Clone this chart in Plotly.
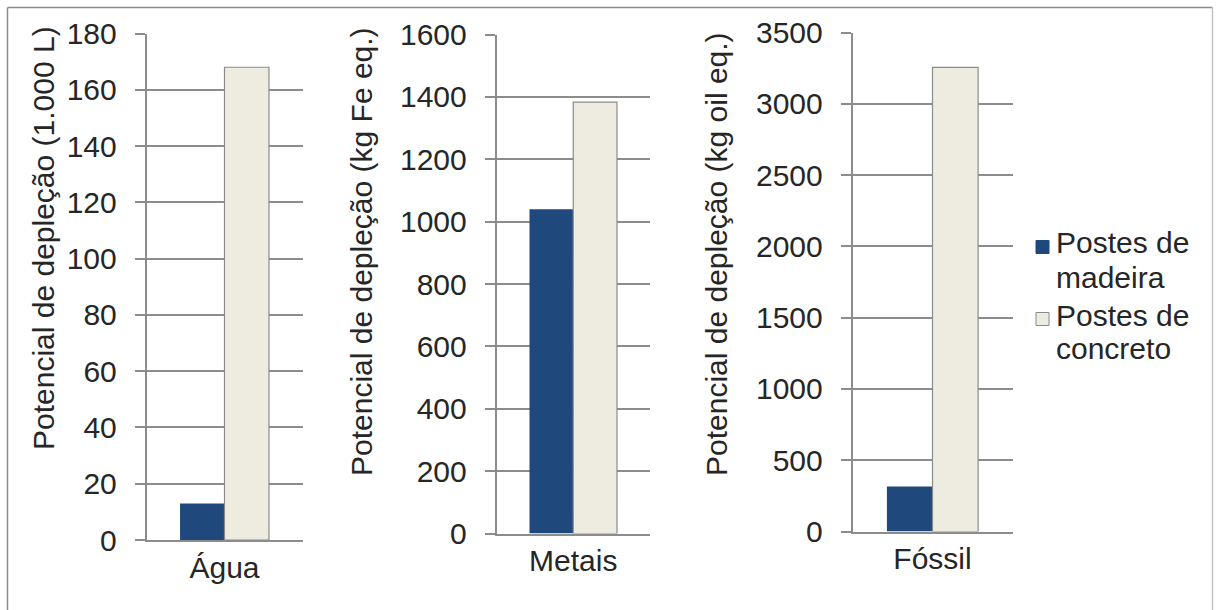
import plotly.graph_objects as go

# Depletion potential per resource category, wooden vs concrete poles
categories = ["Água", "Metais", "Fóssil"]
postes_madeira = [13, 1040, 315]
postes_concreto = [168, 1383, 3255]
series_names = ["Postes de madeira", "Postes de concreto"]
legend_lines = [["Postes de", "madeira"], ["Postes de", "concreto"]]
y_titles = [
    "Potencial de depleção (1.000 L)",
    "Potencial de depleção (kg Fe eq.)",
    "Potencial de depleção (kg oil eq.)",
]
y_ranges = [[0, 180], [0, 1600], [0, 3500]]
y_steps = [20, 200, 500]

W, H = 1216, 610
FONT = "Liberation Sans, Arial, sans-serif"
TXT = "#262626"
GRID = "#8c8c8c"
BLUE = "#1f497d"
SAND = "#eeece1"
FS = 30

# plot-area boxes in pixels: (left, right, top, bottom)
boxes = [(146.5, 302.5, 33.5, 540.0), (496.5, 650.0, 34.5, 533.5), (852.5, 1012.5, 32.5, 531.5)]
# y-axis title centres in pixels
title_pos = [(43, 238), (362, 252), (717, 254)]


def px_x(v):
    return v / W


def px_y(v):
    return 1 - v / H


fig = go.Figure()
for i, cat in enumerate(categories):
    suffix = "" if i == 0 else str(i + 1)
    fig.add_trace(go.Bar(
        x=[cat], y=[postes_madeira[i]], name=series_names[0],
        marker=dict(color=BLUE, line=dict(color=BLUE, width=0)),
        xaxis="x" + suffix, yaxis="y" + suffix, showlegend=False,
    ))
    fig.add_trace(go.Bar(
        x=[cat], y=[postes_concreto[i]], name=series_names[1],
        marker=dict(color=SAND, line=dict(color="#8a8a8a", width=1.2)),
        xaxis="x" + suffix, yaxis="y" + suffix, showlegend=False,
    ))

layout = dict(
    width=W, height=H,
    margin=dict(l=0, r=0, t=0, b=0, autoexpand=False),
    paper_bgcolor="white", plot_bgcolor="white",
    barmode="group", bargap=0.43, bargroupgap=0,
    font=dict(family=FONT, size=FS, color=TXT),
    showlegend=False,
)

for i, (l, r, t, b) in enumerate(boxes):
    suffix = "" if i == 0 else str(i + 1)
    layout["xaxis" + suffix] = dict(
        domain=[px_x(l), px_x(r)], anchor="y" + suffix,
        showline=True, linecolor=GRID, linewidth=1.5,
        showgrid=False, ticks="", zeroline=False, automargin=False,
        tickfont=dict(family=FONT, size=FS, color=TXT),
        fixedrange=True,
    )
    layout["yaxis" + suffix] = dict(
        domain=[px_y(b), px_y(t)], anchor="x" + suffix,
        range=y_ranges[i], dtick=y_steps[i], tick0=0,
        showline=True, linecolor=GRID, linewidth=1.5,
        showgrid=True, gridcolor=GRID, gridwidth=1.5,
        ticks="outside", ticklen=10, tickcolor=GRID, tickwidth=1.5,
        zeroline=False, ticklabelstandoff=12, automargin=False,
        tickfont=dict(family=FONT, size=FS, color=TXT),
        fixedrange=True,
    )

fig.update_layout(**layout)

# rotated y-axis titles
for (cx, cy), text in zip(title_pos, y_titles):
    fig.add_annotation(
        x=px_x(cx), y=px_y(cy), xref="paper", yref="paper",
        text=text, textangle=-90, showarrow=False,
        xanchor="center", yanchor="middle",
        font=dict(family=FONT, size=FS, color=TXT),
    )

# legend: swatches and two-line labels
swatch_style = [dict(fill=BLUE, line=BLUE), dict(fill=SAND, line="#8a8a8a")]
swatch_centers = [247, 319]
line_centers = [[243, 277], [315, 348]]
for k in range(2):
    cy = swatch_centers[k]
    fig.add_shape(
        type="rect", xref="paper", yref="paper",
        x0=px_x(1036), x1=px_x(1049), y0=px_y(cy + 6.5), y1=px_y(cy - 6.5),
        fillcolor=swatch_style[k]["fill"],
        line=dict(color=swatch_style[k]["line"], width=1),
    )
    for line_text, ly in zip(legend_lines[k], line_centers[k]):
        fig.add_annotation(
            x=px_x(1054), y=px_y(ly), xref="paper", yref="paper",
            text=line_text, showarrow=False,
            xanchor="left", yanchor="middle",
            font=dict(family=FONT, size=FS, color=TXT),
        )

# chart frame
frame = [
    (7.5, 7.5, 1212.5, 7.5, "#8c8c8c"),
    (7.5, 7.5, 7.5, 615, "#8c8c8c"),
    (1212.5, 7.5, 1212.5, 615, "#c4c4c4"),
]
for x0, y0, x1, y1, col in frame:
    fig.add_shape(
        type="line", xref="paper", yref="paper",
        x0=px_x(x0), y0=px_y(y0), x1=px_x(x1), y1=px_y(y1),
        line=dict(color=col, width=1.5),
    )

fig.write_html("out.html")
